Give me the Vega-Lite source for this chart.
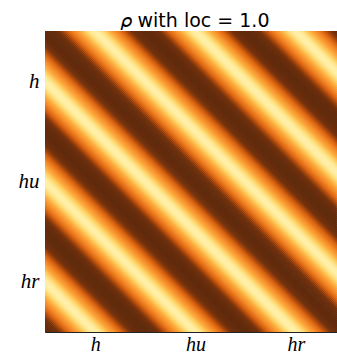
{
"$schema": "https://vega.github.io/schema/vega-lite/v6.json",
"width": 292,
"height": 301,
"autosize": {"type": "none"},
"padding": {"left": 45, "top": 31, "right": 0, "bottom": 21},
"background": "white",
"title": {"text": "𝜌 with loc = 1.0", "font": "DejaVu Sans", "fontSize": 19, "fontWeight": "normal", "color": "black", "anchor": "middle", "dx": 4, "offset": -15, "baseline": "alphabetic"},
"config": {"view": {"stroke": null}},
"data": {"values": [
{"x0":-300,"x1":0,"v":1},{"x0":-298,"x1":2,"v":0.99},{"x0":-296,"x1":4,"v":0.97},{"x0":-294,"x1":6,"v":0.93},{"x0":-292,"x1":8,"v":0.88},{"x0":-290,"x1":10,"v":0.81},{"x0":-288,"x1":12,"v":0.73},{"x0":-286,"x1":14,"v":0.64},{"x0":-284,"x1":16,"v":0.54},{"x0":-282,"x1":18,"v":0.43},{"x0":-280,"x1":20,"v":0.31},{"x0":-278,"x1":22,"v":0.19},{"x0":-276,"x1":24,"v":0.06},{"x0":-274,"x1":26,"v":-0.06},{"x0":-272,"x1":28,"v":-0.19},{"x0":-270,"x1":30,"v":-0.31},{"x0":-268,"x1":32,"v":-0.43},{"x0":-266,"x1":34,"v":-0.54},{"x0":-264,"x1":36,"v":-0.64},{"x0":-262,"x1":38,"v":-0.73},{"x0":-260,"x1":40,"v":-0.81},{"x0":-258,"x1":42,"v":-0.88},{"x0":-256,"x1":44,"v":-0.93},{"x0":-254,"x1":46,"v":-0.97},{"x0":-252,"x1":48,"v":-0.99},{"x0":-250,"x1":50,"v":-1},{"x0":-248,"x1":52,"v":-0.99},{"x0":-246,"x1":54,"v":-0.97},{"x0":-244,"x1":56,"v":-0.93},{"x0":-242,"x1":58,"v":-0.88},{"x0":-240,"x1":60,"v":-0.81},{"x0":-238,"x1":62,"v":-0.73},{"x0":-236,"x1":64,"v":-0.64},{"x0":-234,"x1":66,"v":-0.54},{"x0":-232,"x1":68,"v":-0.43},{"x0":-230,"x1":70,"v":-0.31},{"x0":-228,"x1":72,"v":-0.19},{"x0":-226,"x1":74,"v":-0.06},{"x0":-224,"x1":76,"v":0.06},{"x0":-222,"x1":78,"v":0.19},{"x0":-220,"x1":80,"v":0.31},{"x0":-218,"x1":82,"v":0.43},{"x0":-216,"x1":84,"v":0.54},{"x0":-214,"x1":86,"v":0.64},{"x0":-212,"x1":88,"v":0.73},{"x0":-210,"x1":90,"v":0.81},{"x0":-208,"x1":92,"v":0.88},{"x0":-206,"x1":94,"v":0.93},{"x0":-204,"x1":96,"v":0.97},{"x0":-202,"x1":98,"v":0.99},
{"x0":-200,"x1":100,"v":1},{"x0":-198,"x1":102,"v":0.99},{"x0":-196,"x1":104,"v":0.97},{"x0":-194,"x1":106,"v":0.93},{"x0":-192,"x1":108,"v":0.88},{"x0":-190,"x1":110,"v":0.81},{"x0":-188,"x1":112,"v":0.73},{"x0":-186,"x1":114,"v":0.64},{"x0":-184,"x1":116,"v":0.54},{"x0":-182,"x1":118,"v":0.43},{"x0":-180,"x1":120,"v":0.31},{"x0":-178,"x1":122,"v":0.19},{"x0":-176,"x1":124,"v":0.06},{"x0":-174,"x1":126,"v":-0.06},{"x0":-172,"x1":128,"v":-0.19},{"x0":-170,"x1":130,"v":-0.31},{"x0":-168,"x1":132,"v":-0.43},{"x0":-166,"x1":134,"v":-0.54},{"x0":-164,"x1":136,"v":-0.64},{"x0":-162,"x1":138,"v":-0.73},{"x0":-160,"x1":140,"v":-0.81},{"x0":-158,"x1":142,"v":-0.88},{"x0":-156,"x1":144,"v":-0.93},{"x0":-154,"x1":146,"v":-0.97},{"x0":-152,"x1":148,"v":-0.99},{"x0":-150,"x1":150,"v":-1},{"x0":-148,"x1":152,"v":-0.99},{"x0":-146,"x1":154,"v":-0.97},{"x0":-144,"x1":156,"v":-0.93},{"x0":-142,"x1":158,"v":-0.88},{"x0":-140,"x1":160,"v":-0.81},{"x0":-138,"x1":162,"v":-0.73},{"x0":-136,"x1":164,"v":-0.64},{"x0":-134,"x1":166,"v":-0.54},{"x0":-132,"x1":168,"v":-0.43},{"x0":-130,"x1":170,"v":-0.31},{"x0":-128,"x1":172,"v":-0.19},{"x0":-126,"x1":174,"v":-0.06},{"x0":-124,"x1":176,"v":0.06},{"x0":-122,"x1":178,"v":0.19},{"x0":-120,"x1":180,"v":0.31},{"x0":-118,"x1":182,"v":0.43},{"x0":-116,"x1":184,"v":0.54},{"x0":-114,"x1":186,"v":0.64},{"x0":-112,"x1":188,"v":0.73},{"x0":-110,"x1":190,"v":0.81},{"x0":-108,"x1":192,"v":0.88},{"x0":-106,"x1":194,"v":0.93},{"x0":-104,"x1":196,"v":0.97},{"x0":-102,"x1":198,"v":0.99},
{"x0":-100,"x1":200,"v":1},{"x0":-98,"x1":202,"v":0.99},{"x0":-96,"x1":204,"v":0.97},{"x0":-94,"x1":206,"v":0.93},{"x0":-92,"x1":208,"v":0.88},{"x0":-90,"x1":210,"v":0.81},{"x0":-88,"x1":212,"v":0.73},{"x0":-86,"x1":214,"v":0.64},{"x0":-84,"x1":216,"v":0.54},{"x0":-82,"x1":218,"v":0.43},{"x0":-80,"x1":220,"v":0.31},{"x0":-78,"x1":222,"v":0.19},{"x0":-76,"x1":224,"v":0.06},{"x0":-74,"x1":226,"v":-0.06},{"x0":-72,"x1":228,"v":-0.19},{"x0":-70,"x1":230,"v":-0.31},{"x0":-68,"x1":232,"v":-0.43},{"x0":-66,"x1":234,"v":-0.54},{"x0":-64,"x1":236,"v":-0.64},{"x0":-62,"x1":238,"v":-0.73},{"x0":-60,"x1":240,"v":-0.81},{"x0":-58,"x1":242,"v":-0.88},{"x0":-56,"x1":244,"v":-0.93},{"x0":-54,"x1":246,"v":-0.97},{"x0":-52,"x1":248,"v":-0.99},{"x0":-50,"x1":250,"v":-1},{"x0":-48,"x1":252,"v":-0.99},{"x0":-46,"x1":254,"v":-0.97},{"x0":-44,"x1":256,"v":-0.93},{"x0":-42,"x1":258,"v":-0.88},{"x0":-40,"x1":260,"v":-0.81},{"x0":-38,"x1":262,"v":-0.73},{"x0":-36,"x1":264,"v":-0.64},{"x0":-34,"x1":266,"v":-0.54},{"x0":-32,"x1":268,"v":-0.43},{"x0":-30,"x1":270,"v":-0.31},{"x0":-28,"x1":272,"v":-0.19},{"x0":-26,"x1":274,"v":-0.06},{"x0":-24,"x1":276,"v":0.06},{"x0":-22,"x1":278,"v":0.19},{"x0":-20,"x1":280,"v":0.31},{"x0":-18,"x1":282,"v":0.43},{"x0":-16,"x1":284,"v":0.54},{"x0":-14,"x1":286,"v":0.64},{"x0":-12,"x1":288,"v":0.73},{"x0":-10,"x1":290,"v":0.81},{"x0":-8,"x1":292,"v":0.88},{"x0":-6,"x1":294,"v":0.93},{"x0":-4,"x1":296,"v":0.97},{"x0":-2,"x1":298,"v":0.99},
{"x0":0,"x1":300,"v":1},{"x0":2,"x1":302,"v":0.99},{"x0":4,"x1":304,"v":0.97},{"x0":6,"x1":306,"v":0.93},{"x0":8,"x1":308,"v":0.88},{"x0":10,"x1":310,"v":0.81},{"x0":12,"x1":312,"v":0.73},{"x0":14,"x1":314,"v":0.64},{"x0":16,"x1":316,"v":0.54},{"x0":18,"x1":318,"v":0.43},{"x0":20,"x1":320,"v":0.31},{"x0":22,"x1":322,"v":0.19},{"x0":24,"x1":324,"v":0.06},{"x0":26,"x1":326,"v":-0.06},{"x0":28,"x1":328,"v":-0.19},{"x0":30,"x1":330,"v":-0.31},{"x0":32,"x1":332,"v":-0.43},{"x0":34,"x1":334,"v":-0.54},{"x0":36,"x1":336,"v":-0.64},{"x0":38,"x1":338,"v":-0.73},{"x0":40,"x1":340,"v":-0.81},{"x0":42,"x1":342,"v":-0.88},{"x0":44,"x1":344,"v":-0.93},{"x0":46,"x1":346,"v":-0.97},{"x0":48,"x1":348,"v":-0.99},{"x0":50,"x1":350,"v":-1},{"x0":52,"x1":352,"v":-0.99},{"x0":54,"x1":354,"v":-0.97},{"x0":56,"x1":356,"v":-0.93},{"x0":58,"x1":358,"v":-0.88},{"x0":60,"x1":360,"v":-0.81},{"x0":62,"x1":362,"v":-0.73},{"x0":64,"x1":364,"v":-0.64},{"x0":66,"x1":366,"v":-0.54},{"x0":68,"x1":368,"v":-0.43},{"x0":70,"x1":370,"v":-0.31},{"x0":72,"x1":372,"v":-0.19},{"x0":74,"x1":374,"v":-0.06},{"x0":76,"x1":376,"v":0.06},{"x0":78,"x1":378,"v":0.19},{"x0":80,"x1":380,"v":0.31},{"x0":82,"x1":382,"v":0.43},{"x0":84,"x1":384,"v":0.54},{"x0":86,"x1":386,"v":0.64},{"x0":88,"x1":388,"v":0.73},{"x0":90,"x1":390,"v":0.81},{"x0":92,"x1":392,"v":0.88},{"x0":94,"x1":394,"v":0.93},{"x0":96,"x1":396,"v":0.97},{"x0":98,"x1":398,"v":0.99},
{"x0":100,"x1":400,"v":1},{"x0":102,"x1":402,"v":0.99},{"x0":104,"x1":404,"v":0.97},{"x0":106,"x1":406,"v":0.93},{"x0":108,"x1":408,"v":0.88},{"x0":110,"x1":410,"v":0.81},{"x0":112,"x1":412,"v":0.73},{"x0":114,"x1":414,"v":0.64},{"x0":116,"x1":416,"v":0.54},{"x0":118,"x1":418,"v":0.43},{"x0":120,"x1":420,"v":0.31},{"x0":122,"x1":422,"v":0.19},{"x0":124,"x1":424,"v":0.06},{"x0":126,"x1":426,"v":-0.06},{"x0":128,"x1":428,"v":-0.19},{"x0":130,"x1":430,"v":-0.31},{"x0":132,"x1":432,"v":-0.43},{"x0":134,"x1":434,"v":-0.54},{"x0":136,"x1":436,"v":-0.64},{"x0":138,"x1":438,"v":-0.73},{"x0":140,"x1":440,"v":-0.81},{"x0":142,"x1":442,"v":-0.88},{"x0":144,"x1":444,"v":-0.93},{"x0":146,"x1":446,"v":-0.97},{"x0":148,"x1":448,"v":-0.99},{"x0":150,"x1":450,"v":-1},{"x0":152,"x1":452,"v":-0.99},{"x0":154,"x1":454,"v":-0.97},{"x0":156,"x1":456,"v":-0.93},{"x0":158,"x1":458,"v":-0.88},{"x0":160,"x1":460,"v":-0.81},{"x0":162,"x1":462,"v":-0.73},{"x0":164,"x1":464,"v":-0.64},{"x0":166,"x1":466,"v":-0.54},{"x0":168,"x1":468,"v":-0.43},{"x0":170,"x1":470,"v":-0.31},{"x0":172,"x1":472,"v":-0.19},{"x0":174,"x1":474,"v":-0.06},{"x0":176,"x1":476,"v":0.06},{"x0":178,"x1":478,"v":0.19},{"x0":180,"x1":480,"v":0.31},{"x0":182,"x1":482,"v":0.43},{"x0":184,"x1":484,"v":0.54},{"x0":186,"x1":486,"v":0.64},{"x0":188,"x1":488,"v":0.73},{"x0":190,"x1":490,"v":0.81},{"x0":192,"x1":492,"v":0.88},{"x0":194,"x1":494,"v":0.93},{"x0":196,"x1":496,"v":0.97},{"x0":198,"x1":498,"v":0.99},
{"x0":200,"x1":500,"v":1},{"x0":202,"x1":502,"v":0.99},{"x0":204,"x1":504,"v":0.97},{"x0":206,"x1":506,"v":0.93},{"x0":208,"x1":508,"v":0.88},{"x0":210,"x1":510,"v":0.81},{"x0":212,"x1":512,"v":0.73},{"x0":214,"x1":514,"v":0.64},{"x0":216,"x1":516,"v":0.54},{"x0":218,"x1":518,"v":0.43},{"x0":220,"x1":520,"v":0.31},{"x0":222,"x1":522,"v":0.19},{"x0":224,"x1":524,"v":0.06},{"x0":226,"x1":526,"v":-0.06},{"x0":228,"x1":528,"v":-0.19},{"x0":230,"x1":530,"v":-0.31},{"x0":232,"x1":532,"v":-0.43},{"x0":234,"x1":534,"v":-0.54},{"x0":236,"x1":536,"v":-0.64},{"x0":238,"x1":538,"v":-0.73},{"x0":240,"x1":540,"v":-0.81},{"x0":242,"x1":542,"v":-0.88},{"x0":244,"x1":544,"v":-0.93},{"x0":246,"x1":546,"v":-0.97},{"x0":248,"x1":548,"v":-0.99},{"x0":250,"x1":550,"v":-1},{"x0":252,"x1":552,"v":-0.99},{"x0":254,"x1":554,"v":-0.97},{"x0":256,"x1":556,"v":-0.93},{"x0":258,"x1":558,"v":-0.88},{"x0":260,"x1":560,"v":-0.81},{"x0":262,"x1":562,"v":-0.73},{"x0":264,"x1":564,"v":-0.64},{"x0":266,"x1":566,"v":-0.54},{"x0":268,"x1":568,"v":-0.43},{"x0":270,"x1":570,"v":-0.31},{"x0":272,"x1":572,"v":-0.19},{"x0":274,"x1":574,"v":-0.06},{"x0":276,"x1":576,"v":0.06},{"x0":278,"x1":578,"v":0.19},{"x0":280,"x1":580,"v":0.31},{"x0":282,"x1":582,"v":0.43},{"x0":284,"x1":584,"v":0.54},{"x0":286,"x1":586,"v":0.64},{"x0":288,"x1":588,"v":0.73},{"x0":290,"x1":590,"v":0.81},{"x0":292,"x1":592,"v":0.88}
]},
"resolve": {"axis": {"x": "independent", "y": "independent"}},
"layer": [
{
"mark": {"type": "rule", "clip": true, "strokeWidth": 2, "strokeCap": "square"},
"encoding": {
"x": {"field": "x0", "type": "quantitative", "scale": {"domain": [0, 291], "nice": false, "zero": false},
"axis": {"orient": "bottom", "values": [50, 150, 250], "labelExpr": "datum.value == 50 ? 'h' : datum.value == 150 ? 'hu' : 'hr'", "title": null, "grid": false, "tickSize": -4, "tickColor": "#222", "tickWidth": 1, "domainColor": "#222", "domainWidth": 1, "labelFont": "Liberation Serif", "labelFontStyle": "italic", "labelFontSize": 20, "labelColor": "black", "labelPadding": 6, "labelFlush": false}},
"x2": {"field": "x1"},
"y": {"datum": 0, "type": "quantitative", "scale": {"domain": [0, 300], "reverse": true, "nice": false, "zero": false},
"axis": {"orient": "left", "values": [50, 150, 250], "labelExpr": "datum.value == 50 ? 'h' : datum.value == 150 ? 'hu' : 'hr'", "title": null, "grid": false, "tickSize": -4, "tickColor": "#222", "tickWidth": 1, "domainColor": "#222", "domainWidth": 1, "labelFont": "Liberation Serif", "labelFontStyle": "italic", "labelFontSize": 21, "labelColor": "black", "labelPadding": 10, "labelFlush": false}},
"y2": {"datum": 300},
"color": {"field": "v", "type": "quantitative", "legend": null,
"scale": {"domain": [-1, -0.85, -0.6, -0.2, 0.15, 0.4, 0.65, 1], "range": ["#fff0a8", "#fed66a", "#fdaa3c", "#f28323", "#d9620f", "#a9460b", "#73300b", "#5f2a0b"], "interpolate": "rgb"}}
}
},
{
"data": {"values": [{"p": 0}]},
"mark": {"type": "rule", "opacity": 0},
"encoding": {
"x": {"datum": 0, "type": "quantitative",
"axis": {"orient": "top", "values": [50, 150, 250], "labels": false, "title": null, "grid": false, "tickSize": -4, "tickColor": "#222", "tickWidth": 1, "domainColor": "#222", "domainWidth": 1}},
"y": {"datum": 0, "type": "quantitative", "axis": null}
}
}
]
}
